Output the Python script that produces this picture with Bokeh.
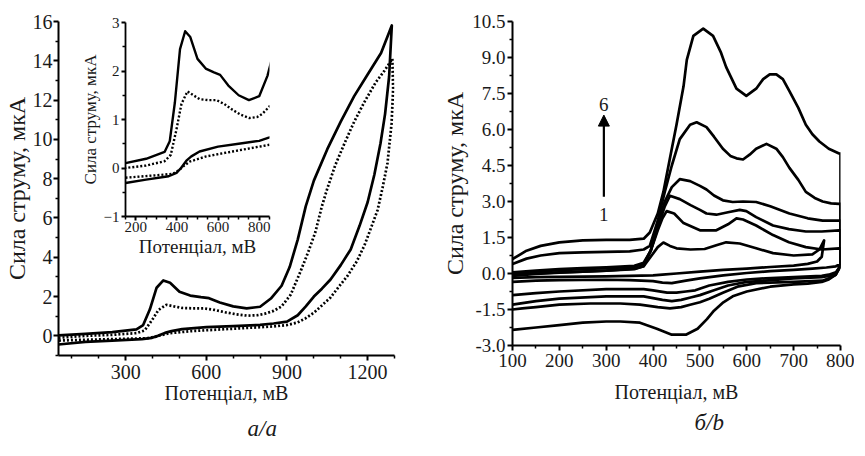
from bokeh.plotting import figure
from bokeh.layouts import row
from bokeh.models import Range1d, Title, Arrow, NormalHead, Label, FixedTicker, NumeralTickFormatter
from bokeh.embed import file_html
from bokeh.resources import INLINE

FONT = "'Liberation Serif', 'Times New Roman', serif"

# ---------------- panel a (main + inset share the same curves) ----------------
E_a_solid_fwd = [50, 150, 250, 340, 365, 390, 415, 440, 465, 500, 540, 580, 610, 650, 700, 750, 800, 840,
                 880, 910, 940, 970, 1000, 1050, 1100, 1150, 1200, 1250, 1290]
I_a_solid_fwd = [0.02, 0.10, 0.19, 0.33, 0.55, 1.35, 2.45, 2.82, 2.70, 2.25, 2.05, 1.97, 1.92, 1.70, 1.50, 1.40,
                 1.48, 1.90, 2.55, 3.50, 4.90, 6.60, 7.90, 9.50, 10.90, 12.20, 13.30, 14.40, 15.80]
E_a_solid_rev = [1290, 1280, 1265, 1248, 1225, 1200, 1170, 1137, 1100, 1062, 1030, 1000, 970, 940, 900, 850,
                 800, 700, 600, 510, 470, 446, 420, 398, 360, 250, 150, 50]
I_a_solid_rev = [15.8, 13.2, 11.3, 9.8, 8.2, 6.8, 5.6, 4.4, 3.6, 2.87, 2.4, 2.0, 1.5, 1.05, 0.72, 0.63,
                 0.56, 0.50, 0.44, 0.34, 0.24, 0.15, 0.0, -0.10, -0.17, -0.24, -0.31, -0.44]
E_a_dot_fwd = [50, 150, 250, 340, 370, 398, 422, 451, 480, 510, 550, 592, 630, 670, 710, 752, 790, 816, 850,
               880, 914, 951, 980, 1006, 1030, 1050, 1080, 1114, 1150, 1188, 1230, 1263, 1292]
I_a_dot_fwd = [-0.10, 0.0, 0.05, 0.14, 0.27, 0.80, 1.32, 1.58, 1.50, 1.42, 1.40, 1.40, 1.32, 1.20, 1.10, 1.03,
               1.05, 1.12, 1.27, 1.50, 2.10, 3.30, 4.30, 5.30, 6.60, 7.50, 8.70, 9.80, 10.90, 11.90, 12.90,
               13.50, 14.10]
E_a_dot_rev = [1292, 1295, 1289, 1274, 1255, 1237, 1210, 1188, 1160, 1125, 1090, 1062, 1030, 1002, 970, 939,
               900, 850, 800, 670, 543, 461, 430, 412, 380, 300, 150, 50]
I_a_dot_rev = [14.1, 12.6, 10.8, 8.8, 7.5, 6.4, 5.4, 4.6, 3.8, 3.05, 2.45, 1.95, 1.55, 1.2, 0.9, 0.68,
               0.55, 0.48, 0.44, 0.34, 0.24, 0.13, 0.03, -0.04, -0.12, -0.15, -0.20, -0.24]

a_x_ticks = [300, 600, 900, 1200]
a_x_minor = [100, 200, 400, 500, 700, 800, 1000, 1100, 1300]
a_y_ticks = [0, 2, 4, 6, 8, 10, 12, 14, 16]
a_y_minor = [-1, 1, 3, 5, 7, 9, 11, 13, 15]
in_x_ticks = [200, 400, 600, 800]
in_x_minor = [150, 250, 300, 350, 450, 500, 550, 650, 700, 750, 850]
in_y_ticks = [-1, 0, 1, 2, 3]
in_y_minor = [-0.5, 0.5, 1.5, 2.5]

# ---------------- panel b: six voltammograms ----------------
E_b1_fwd = [100, 150, 200, 250, 300, 360, 380, 395, 410, 422, 436, 450, 480, 510, 535, 556, 585, 620, 656, 700, 740, 755, 765]
I_b1_fwd = [-0.05, 0.0, 0.05, 0.08, 0.12, 0.18, 0.3, 0.7, 1.1, 1.29, 1.15, 1.05, 1.0, 1.02, 1.18, 1.3, 1.25, 1.05, 0.85, 0.75, 0.8, 1.0, 1.38]
E_b1_rev = [765, 760, 750, 730, 700, 650, 600, 550, 500, 450, 420, 400, 350, 300, 200, 150, 100]
I_b1_rev = [1.38, 0.7, 0.5, 0.4, 0.33, 0.27, 0.2, 0.15, 0.08, 0.0, -0.05, -0.08, -0.1, -0.12, -0.14, -0.15, -0.18]

E_b2_fwd = [100, 150, 200, 250, 300, 360, 380, 395, 410, 420, 429, 445, 465, 500, 535, 560, 578, 592, 620, 656, 690, 726, 760, 797, 800]
I_b2_fwd = [-0.1, -0.02, 0.04, 0.08, 0.12, 0.2, 0.3, 0.95, 1.8, 2.3, 2.6, 2.5, 2.1, 1.8, 1.8, 2.05, 2.3, 2.25, 2.0, 1.6, 1.3, 1.1, 1.0, 1.05, 1.05]
E_b2_rev = [800, 800, 790, 770, 740, 700, 650, 600, 550, 500, 470, 440, 420, 400, 350, 300, 200, 150, 100]
I_b2_rev = [1.05, 0.4, 0.3, 0.25, 0.2, 0.15, 0.1, 0.02, -0.08, -0.2, -0.3, -0.4, -0.38, -0.32, -0.28, -0.26, -0.28, -0.3, -0.35]

E_b3_fwd = [100, 150, 200, 250, 300, 360, 380, 395, 410, 425, 436, 457, 480, 500, 514, 535, 560, 585, 599, 620, 656, 690, 726, 760, 797, 800]
I_b3_fwd = [0.0, 0.08, 0.14, 0.18, 0.22, 0.28, 0.4, 0.95, 1.9, 2.8, 3.24, 3.1, 2.85, 2.65, 2.5, 2.45, 2.55, 2.65, 2.6, 2.35, 2.0, 1.85, 1.75, 1.75, 1.8, 1.8]
E_b3_rev = [800, 800, 790, 775, 760, 700, 640, 600, 560, 520, 490, 470, 450, 430, 400, 380, 300, 200, 150, 100]
I_b3_rev = [1.8, 0.3, 0.05, -0.05, -0.1, -0.15, -0.2, -0.25, -0.35, -0.5, -0.7, -0.75, -0.8, -0.8, -0.7, -0.65, -0.65, -0.75, -0.82, -0.9]

E_b4_fwd = [100, 150, 200, 250, 300, 360, 380, 395, 410, 425, 440, 457, 479, 500, 514, 530, 549, 570, 592, 620, 650, 691, 730, 762, 797, 800]
I_b4_fwd = [0.05, 0.12, 0.18, 0.22, 0.26, 0.32, 0.45, 0.95, 2.0, 3.0, 3.6, 3.93, 3.85, 3.65, 3.5, 3.25, 3.05, 2.98, 3.0, 2.98, 2.8, 2.5, 2.3, 2.2, 2.2, 2.2]
E_b4_rev = [800, 800, 790, 775, 760, 700, 640, 600, 560, 530, 500, 480, 460, 440, 420, 380, 300, 200, 150, 100]
I_b4_rev = [2.2, 0.3, 0.0, -0.1, -0.15, -0.2, -0.3, -0.35, -0.5, -0.7, -0.9, -1.0, -1.1, -1.15, -1.1, -0.95, -0.95, -1.05, -1.15, -1.3]

E_b5_fwd = [100, 130, 160, 200, 250, 300, 350, 380, 393, 410, 425, 440, 457, 479, 493, 514, 530, 549, 565, 578, 592, 606, 620, 642, 663, 677, 691, 710, 726, 745, 762, 780, 797, 800]
I_b5_fwd = [0.40, 0.62, 0.75, 0.85, 0.88, 0.90, 0.92, 1.0, 1.15, 2.2, 3.4, 4.5, 5.6, 6.2, 6.3, 6.1, 5.7, 5.2, 4.9, 4.8, 4.75, 4.95, 5.2, 5.4, 5.2, 4.85, 4.4, 3.9, 3.4, 3.15, 3.0, 2.92, 2.9, 2.9]
E_b5_rev = [800, 800, 790, 775, 762, 700, 620, 580, 549, 520, 500, 479, 460, 436, 410, 372, 330, 266, 200, 150, 121, 100]
I_b5_rev = [2.9, 0.3, -0.05, -0.2, -0.3, -0.35, -0.4, -0.55, -0.8, -1.05, -1.2, -1.3, -1.4, -1.45, -1.4, -1.3, -1.25, -1.25, -1.3, -1.4, -1.45, -1.5]

E_b6_fwd = [100, 130, 160, 200, 250, 300, 350, 380, 393, 410, 422, 436, 450, 465, 472, 486, 507, 528, 545, 556, 578, 599, 620, 635, 649, 663, 677, 691, 710, 726, 740, 755, 775, 797, 800]
I_b6_fwd = [0.60, 0.95, 1.15, 1.30, 1.38, 1.40, 1.40, 1.45, 1.71, 2.5, 3.4, 4.8, 6.2, 7.8, 8.9, 9.9, 10.2, 9.9, 9.2, 8.6, 7.7, 7.4, 7.7, 8.1, 8.3, 8.3, 8.1, 7.6, 6.9, 6.2, 5.8, 5.5, 5.2, 5.0, 5.0]
E_b6_rev = [800, 800, 790, 775, 760, 730, 700, 650, 600, 570, 550, 530, 515, 495, 470, 440, 408, 372, 330, 300, 250, 200, 150, 100]
I_b6_rev = [5.0, 0.4, -0.05, -0.25, -0.35, -0.42, -0.45, -0.55, -0.75, -0.95, -1.2, -1.55, -1.9, -2.3, -2.55, -2.55, -2.3, -2.05, -2.0, -2.0, -2.05, -2.15, -2.25, -2.35]

b_x_ticks = [100, 200, 300, 400, 500, 600, 700, 800]
b_x_minor = [150, 250, 350, 450, 550, 650, 750]
b_y_ticks = [-3.0, -1.5, 0.0, 1.5, 3.0, 4.5, 6.0, 7.5, 9.0, 10.5]
b_y_minor = [-2.25, -0.75, 0.75, 2.25, 3.75, 5.25, 6.75, 8.25, 9.75]

y_title = "Сила струму, мкА"
x_title = "Потенціал, мВ"
TXT = "#1a1a1a"


def style_axes(p, tick_size, title_size_x, title_size_y, ylab_std, xlab_std, xtitle_std, ytitle_std,
               tick_out=5, minor_out=3, line_w=2):
    p.grid.visible = False
    p.outline_line_color = None
    for ax in (p.xaxis[0], p.yaxis[0]):
        ax.axis_line_width = line_w
        ax.axis_line_color = "black"
        ax.major_tick_line_width = 2
        ax.minor_tick_line_width = 1.5
        ax.major_tick_in = 0
        ax.minor_tick_in = 0
        ax.major_tick_out = tick_out
        ax.minor_tick_out = minor_out
        ax.major_label_text_font = FONT
        ax.major_label_text_font_size = tick_size
        ax.major_label_text_color = TXT
        ax.axis_label_text_font = FONT
        ax.axis_label_text_font_style = "normal"
        ax.axis_label_text_color = TXT
    p.xaxis[0].axis_label_text_font_size = title_size_x
    p.yaxis[0].axis_label_text_font_size = title_size_y
    p.yaxis[0].major_label_standoff = ylab_std
    p.xaxis[0].major_label_standoff = xlab_std
    p.xaxis[0].axis_label_standoff = xtitle_std
    p.yaxis[0].axis_label_standoff = ytitle_std
    p.xaxis[0].axis_label = x_title
    p.yaxis[0].axis_label = y_title


def draw_a(p, w):
    p.line(E_a_solid_fwd + E_a_solid_rev, I_a_solid_fwd + I_a_solid_rev, line_width=w, color="black",
           line_join="round")
    p.line(E_a_dot_fwd + E_a_dot_rev, I_a_dot_fwd + I_a_dot_rev, line_width=w, color="black",
           line_dash="2 2")


# main left figure
pa = figure(frame_width=336, frame_height=334, x_range=Range1d(50, 1300), y_range=Range1d(-1, 16),
            output_backend="svg", toolbar_location=None,
            min_border_left=53, min_border_right=41, min_border_top=11, min_border_bottom=95)
draw_a(pa, 2.7)
pa.xaxis[0].ticker = FixedTicker(ticks=a_x_ticks, minor_ticks=a_x_minor)
pa.yaxis[0].ticker = FixedTicker(ticks=a_y_ticks, minor_ticks=a_y_minor)
style_axes(pa, "20px", "20px", "24px", 1, 4, 0, 0)
pa.add_layout(Title(text="а/а", align="left", text_font=FONT, text_font_style="italic",
                    text_font_size="23px", text_color=TXT, standoff=14, offset=189), "below")

# inset figure
pin = figure(frame_width=144, frame_height=194, x_range=Range1d(150, 850), y_range=Range1d(-1, 3),
             output_backend="svg", toolbar_location=None,
             min_border_left=41, min_border_right=8, min_border_top=10, min_border_bottom=52,
             styles={"position": "absolute", "left": "77px", "top": "1px", "z-index": "10"})
draw_a(pin, 2.4)
pin.xaxis[0].ticker = FixedTicker(ticks=in_x_ticks, minor_ticks=in_x_minor)
pin.yaxis[0].ticker = FixedTicker(ticks=in_y_ticks, minor_ticks=in_y_minor)
style_axes(pin, "15px", "19px", "17px", 2, 1, 1, 1, tick_out=4, minor_out=3, line_w=1.8)
pin.background_fill_alpha = 0
pin.border_fill_alpha = 0

# right figure
pb = figure(frame_width=328, frame_height=324, x_range=Range1d(100, 800), y_range=Range1d(-3, 10.5),
            output_backend="svg", toolbar_location=None,
            min_border_left=77, min_border_right=14, min_border_top=21, min_border_bottom=95)
for ef, i_f, er, ir in [(E_b1_fwd, I_b1_fwd, E_b1_rev, I_b1_rev),
                        (E_b2_fwd, I_b2_fwd, E_b2_rev, I_b2_rev),
                        (E_b3_fwd, I_b3_fwd, E_b3_rev, I_b3_rev),
                        (E_b4_fwd, I_b4_fwd, E_b4_rev, I_b4_rev),
                        (E_b5_fwd, I_b5_fwd, E_b5_rev, I_b5_rev),
                        (E_b6_fwd, I_b6_fwd, E_b6_rev, I_b6_rev)]:
    pb.line(ef + er, i_f + ir, line_width=2.7, color="black", line_join="round")
pb.xaxis[0].ticker = FixedTicker(ticks=b_x_ticks, minor_ticks=b_x_minor)
pb.yaxis[0].ticker = FixedTicker(ticks=b_y_ticks, minor_ticks=b_y_minor)
pb.yaxis[0].formatter = NumeralTickFormatter(format="0.0")
style_axes(pb, "19px", "20px", "24px", 2, 3, 11, 1)
pb.add_layout(Arrow(end=NormalHead(size=11, fill_color="black", line_color="black"),
                    x_start=295, y_start=3.2, x_end=295, y_end=6.6, line_width=2.2, line_color="black"))
pb.add_layout(Label(x=295, y=7.05, text="6", text_align="center", text_baseline="middle",
                    text_font=FONT, text_font_size="19px", text_color=TXT))
pb.add_layout(Label(x=295, y=2.45, text="1", text_align="center", text_baseline="middle",
                    text_font=FONT, text_font_size="19px", text_color=TXT))
pb.add_layout(Title(text="б/b", align="left", text_font=FONT, text_font_style="italic",
                    text_font_size="23px", text_color=TXT, standoff=4, offset=182), "below")

layout = row(pa, pb, pin, styles={"position": "relative"})
open("out.html", "w").write(file_html(layout, INLINE))
